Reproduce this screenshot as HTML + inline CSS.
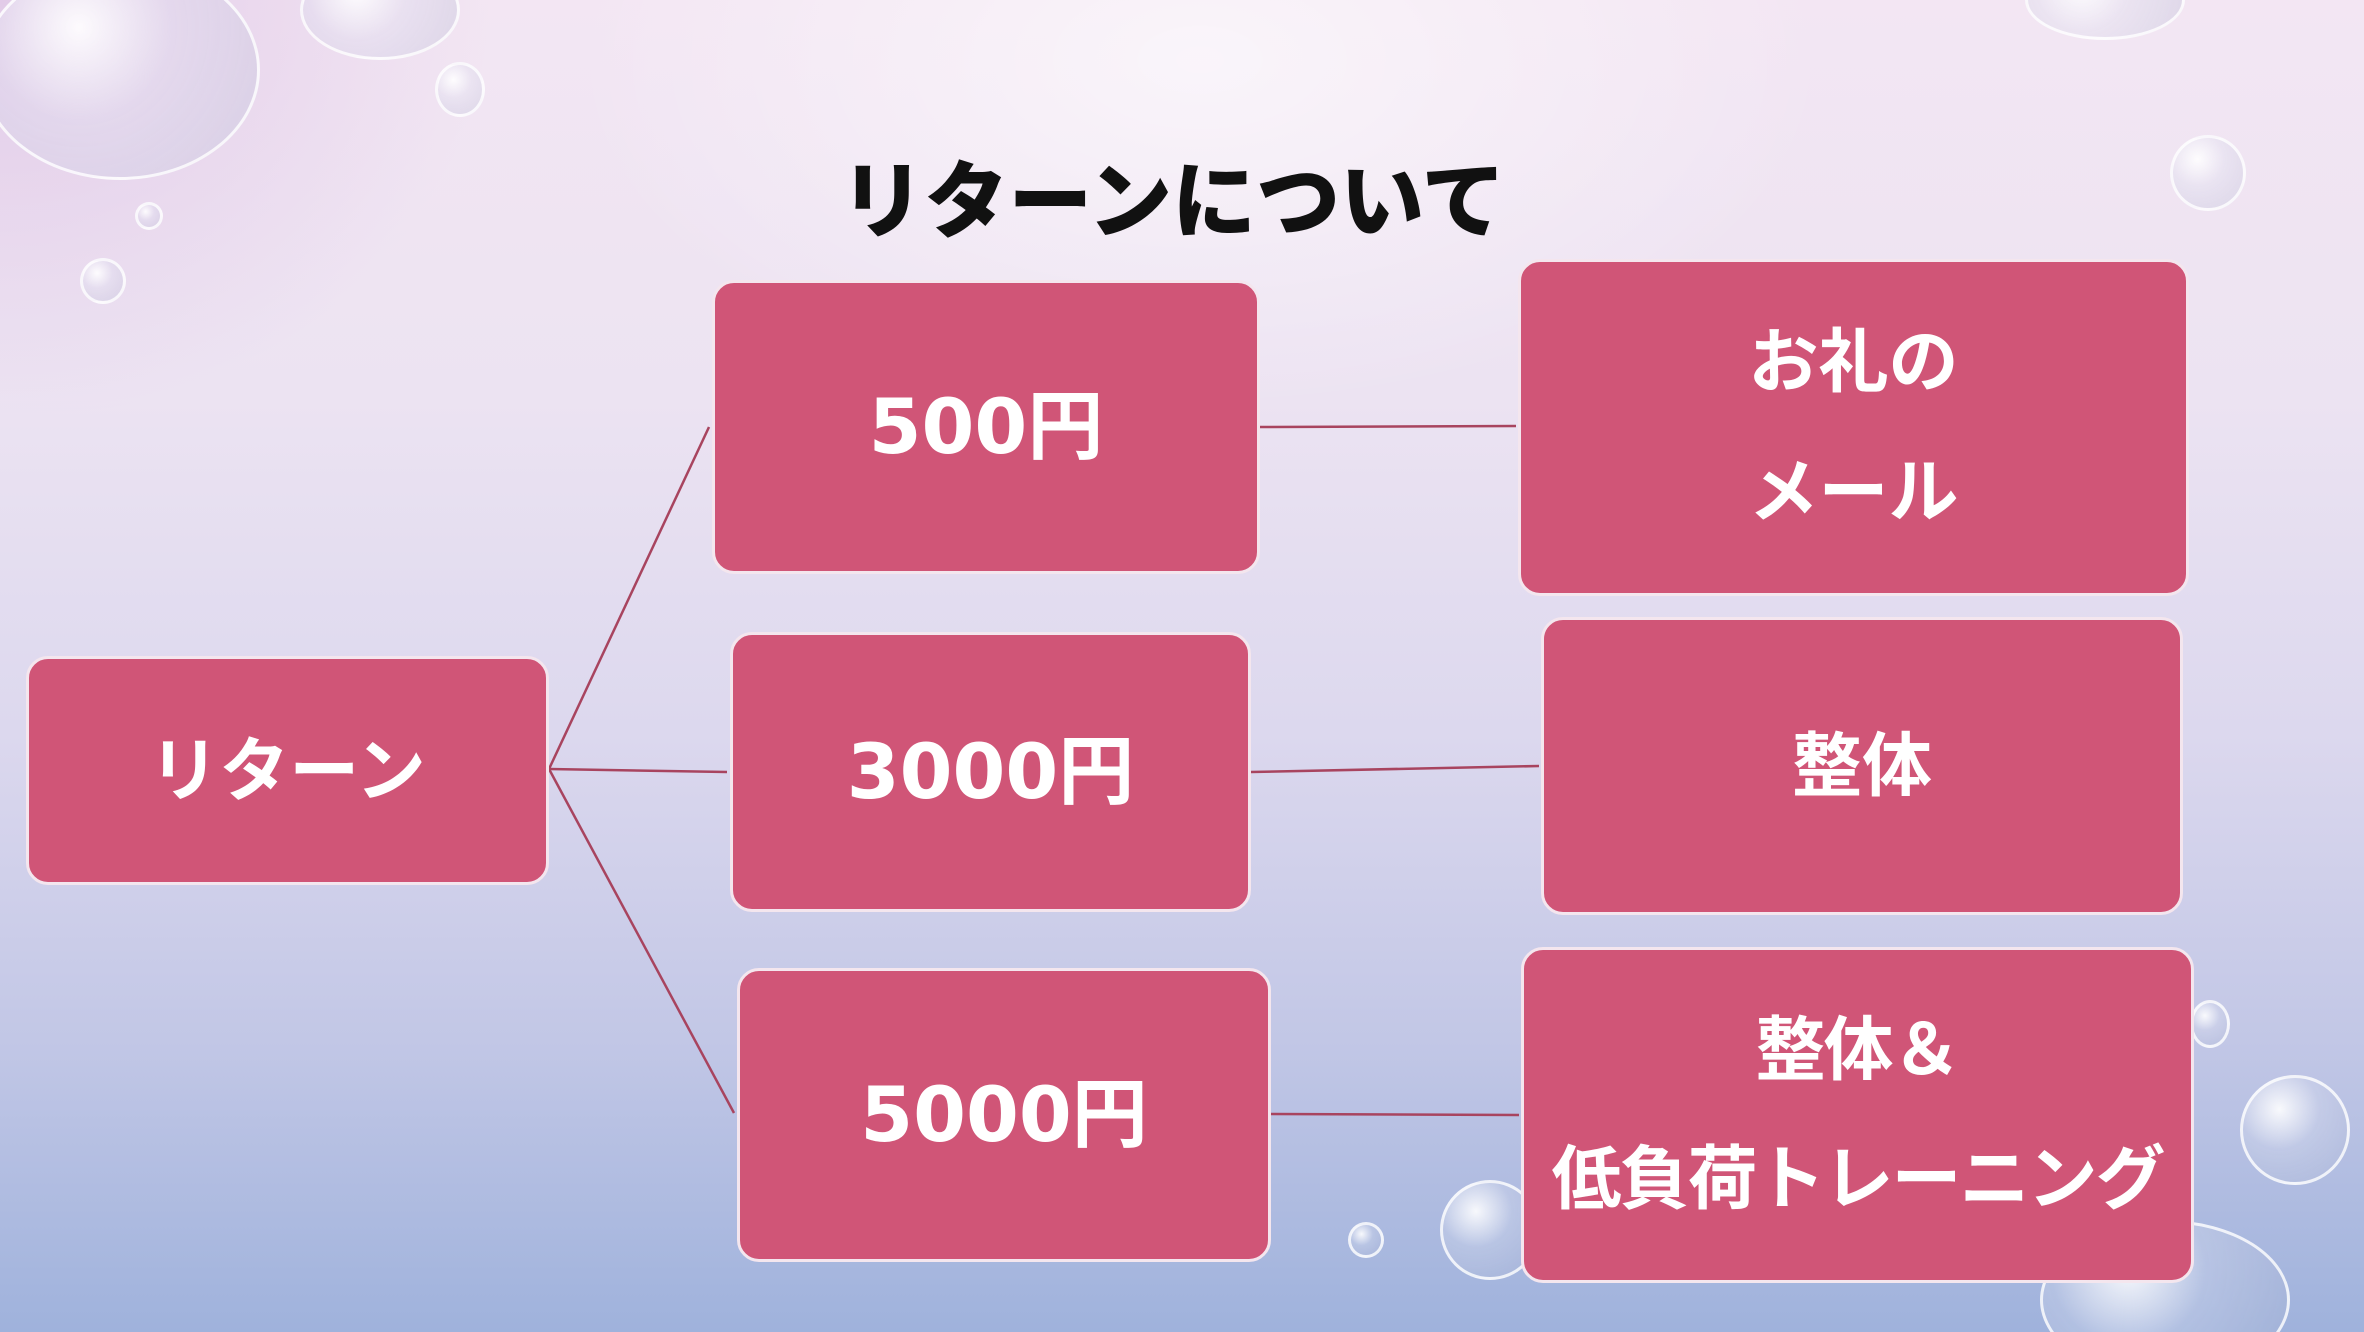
<!DOCTYPE html>
<html><head><meta charset="utf-8"><style>
html,body{margin:0;padding:0;width:2364px;height:1332px;overflow:hidden}
#w{width:2364px;height:1332px;position:relative;overflow:hidden;
background:linear-gradient(180deg,#f3e6f3 0%,#ece3f2 30%,#dcd8ee 55%,#c2c7e6 78%,#9fb2dc 100%);
font-family:"DejaVu Sans","Noto Sans CJK JP",sans-serif}
.glow{position:absolute;left:0;top:0;width:2364px;height:1332px;
background:radial-gradient(ellipse 900px 500px at 1200px 60px,rgba(255,255,255,0.6),rgba(255,255,255,0) 70%),
radial-gradient(ellipse 700px 600px at 0px 0px,rgba(215,185,225,0.6),rgba(215,185,225,0) 70%)}
.b{position:absolute;box-sizing:border-box;background:#d05577;border:3px solid #f4e6ee;border-radius:22px;
color:#fff;display:flex;align-items:center;justify-content:center;text-align:center;font-size:70px;line-height:1.8;font-weight:bold}
.t{position:absolute;left:773px;top:135px;width:800px;text-align:center;font-size:84px;font-weight:900;color:#111;font-family:"Noto Sans CJK JP",sans-serif}
.bub{position:absolute;border-radius:50%;border:3px solid rgba(255,255,255,0.8);
background:radial-gradient(circle at 35% 30%,rgba(255,255,255,0.9),rgba(220,225,240,0.3) 40%,rgba(160,170,200,0.25) 100%);box-sizing:border-box}
</style></head><body><div id="w">
<div class="glow"></div>
<div class="bub" style="left:-20px;top:-40px;width:280px;height:220px"></div>
<div class="bub" style="left:300px;top:-40px;width:160px;height:100px"></div>
<div class="bub" style="left:435px;top:62px;width:50px;height:55px"></div>
<div class="bub" style="left:135px;top:202px;width:28px;height:28px"></div>
<div class="bub" style="left:80px;top:258px;width:46px;height:46px"></div>
<div class="bub" style="left:2025px;top:-40px;width:160px;height:80px"></div>
<div class="bub" style="left:2170px;top:135px;width:76px;height:76px"></div>
<div class="bub" style="left:2190px;top:1000px;width:40px;height:48px"></div>
<div class="bub" style="left:2240px;top:1075px;width:110px;height:110px"></div>
<div class="bub" style="left:1440px;top:1180px;width:100px;height:100px"></div>
<div class="bub" style="left:1348px;top:1222px;width:36px;height:36px"></div>
<div class="bub" style="left:2040px;top:1220px;width:250px;height:160px"></div>
<div class="t">リターンについて</div>
<svg style="position:absolute;left:0;top:0" width="2364" height="1332">
<g stroke="#a8445f" stroke-width="2.5" fill="none">
<line x1="549" y1="769" x2="709" y2="427"/>
<line x1="549" y1="769" x2="727" y2="772"/>
<line x1="549" y1="769" x2="734" y2="1113"/>
<line x1="1260" y1="427" x2="1516" y2="426"/>
<line x1="1251" y1="772" x2="1539" y2="766"/>
<line x1="1271" y1="1114" x2="1519" y2="1115"/>
</g></svg>
<div class="b" style="left:26px;top:656px;width:523px;height:229px">リターン</div>
<div class="b" style="left:712px;top:280px;width:548px;height:294px;font-size:76px">500円</div>
<div class="b" style="left:730px;top:632px;width:521px;height:280px;font-size:76px">3000円</div>
<div class="b" style="left:737px;top:968px;width:534px;height:294px;font-size:76px">5000円</div>
<div class="b" style="left:1518px;top:259px;width:671px;height:337px;line-height:1.85">お礼の<br>メール</div>
<div class="b" style="left:1541px;top:617px;width:642px;height:298px">整体</div>
<div class="b" style="left:1521px;top:947px;width:673px;height:336px;line-height:1.85;white-space:nowrap;letter-spacing:-2px">整体＆<br>低負荷トレーニング</div>
</div></body></html>
